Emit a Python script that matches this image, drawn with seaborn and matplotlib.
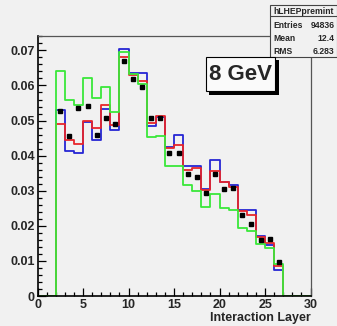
import numpy as np
import pandas as pd
import matplotlib
matplotlib.use("Agg")
import matplotlib.pyplot as plt
from matplotlib.ticker import MultipleLocator, FuncFormatter
import seaborn as sns

# interaction layer bins (centres of the filled bins, width 1)
layers = np.arange(2, 27) + 0.5

green = [0.0641, 0.0560, 0.0543, 0.0622, 0.0564, 0.0596, 0.0524, 0.0696, 0.0632, 0.0604,
         0.0454, 0.0457, 0.0370, 0.0370, 0.0316, 0.0300, 0.0253, 0.0291, 0.0252, 0.0245,
         0.0193, 0.0186, 0.0147, 0.0136, 0.0090]
blue = [0.0530, 0.0413, 0.0408, 0.0497, 0.0446, 0.0533, 0.0473, 0.0705, 0.0635, 0.0635,
        0.0484, 0.0510, 0.0425, 0.0458, 0.0371, 0.0371, 0.0306, 0.0389, 0.0325, 0.0316,
        0.0245, 0.0245, 0.0171, 0.0145, 0.0074]
red = [0.0489, 0.0444, 0.0433, 0.0498, 0.0480, 0.0543, 0.0488, 0.0680, 0.0631, 0.0614,
       0.0492, 0.0512, 0.0421, 0.0430, 0.0359, 0.0365, 0.0302, 0.0357, 0.0324, 0.0311,
       0.0242, 0.0231, 0.0169, 0.0150, 0.0085]
data = [0.0527, 0.0457, 0.0535, 0.0541, 0.0458, 0.0507, 0.0490, 0.0670, 0.0619, 0.0595,
        0.0507, 0.0508, 0.0408, 0.0408, 0.0348, 0.0340, 0.0294, 0.0347, 0.0305, 0.0308,
        0.0231, 0.0204, 0.0160, 0.0162, 0.0097]

stats_rows = [("Entries", "94836"), ("Mean", "12.4"), ("RMS", "6.283")]

bg = "#f1f1f1"
sns.set_style("ticks")
plt.rcParams["font.family"] = ["Liberation Sans", "DejaVu Sans"]

fig = plt.figure(figsize=(3.37, 3.26), dpi=100, facecolor=bg)
ax = fig.add_axes([0.1113, 0.092, 0.8103, 0.7976], facecolor=bg)

# histograms (blue, red, green), then the data points on top
for vals, col in [(blue, "#2626d4"), (red, "#e8262b"), (green, "#3ae83a")]:
    df = pd.DataFrame({"layer": layers, "w": vals})
    sns.histplot(data=df, x="layer", weights="w", binwidth=1, binrange=(0, 30),
                 element="step", fill=False, color=col, linewidth=1.3, ax=ax)

ax.errorbar(layers, data, yerr=0.0004, fmt="s", color="black", ms=3.2,
            elinewidth=1.0, capsize=0, zorder=5)

ax.set_xlim(0, 30)
ax.set_ylim(0, 0.0741)
ax.xaxis.set_major_locator(MultipleLocator(5))
ax.xaxis.set_minor_locator(MultipleLocator(1))
ax.yaxis.set_major_locator(MultipleLocator(0.01))
ax.yaxis.set_minor_locator(MultipleLocator(0.002))
ax.yaxis.set_major_formatter(FuncFormatter(lambda v, p: "0" if abs(v) < 1e-9 else f"{v:.2f}"))
ax.tick_params(which="both", direction="in", top=False, right=False, width=0.9, color="black")
ax.tick_params(which="major", length=6, labelsize=9, pad=2)
ax.tick_params(which="minor", length=3)
for lab in ax.get_xticklabels() + ax.get_yticklabels():
    lab.set_fontweight("bold")

for side in ["left", "bottom"]:
    ax.spines[side].set_color("black")
    ax.spines[side].set_linewidth(1.2)
for side in ["top", "right"]:
    ax.spines[side].set_color("#555555")
    ax.spines[side].set_linewidth(0.9)

ax.set_ylabel("")
ax.set_xlabel("Interaction Layer", fontsize=9, fontweight="bold", loc="right", labelpad=1)

# "8 GeV" label box with shadow
fig.patches.append(plt.Rectangle((0.620, 0.709), 0.208, 0.010, transform=fig.transFigure,
                                 facecolor="black", edgecolor="none", zorder=3))
fig.patches.append(plt.Rectangle((0.816, 0.709), 0.012, 0.107, transform=fig.transFigure,
                                 facecolor="black", edgecolor="none", zorder=3))
fig.patches.append(plt.Rectangle((0.611, 0.720), 0.205, 0.105, transform=fig.transFigure,
                                 facecolor="#fafafa", edgecolor="black", linewidth=0.8, zorder=4))
fig.text(0.714, 0.771, "8 GeV", fontsize=16, fontweight="bold", ha="center", va="center", zorder=5)

# statistics box
fig.patches.append(plt.Rectangle((0.801, 0.825), 0.199, 0.16, transform=fig.transFigure,
                                 facecolor=bg, edgecolor="#444444", linewidth=0.8, zorder=3))
fig.lines.append(plt.Line2D([0.801, 1.0], [0.95, 0.95], transform=fig.transFigure,
                            color="#444444", linewidth=0.8, zorder=4))
fig.text(0.9, 0.965, "hLHEPpremint", fontsize=6.2, fontweight="bold", ha="center", va="center", zorder=5)
for i, (k, v) in enumerate(stats_rows):
    yy = 0.922 - i * 0.04
    fig.text(0.812, yy, k, fontsize=6.2, fontweight="bold", ha="left", va="center", zorder=5)
    fig.text(0.992, yy, v, fontsize=6.2, fontweight="bold", ha="right", va="center", zorder=5)

fig.savefig("out.png", dpi=100, facecolor=bg)
